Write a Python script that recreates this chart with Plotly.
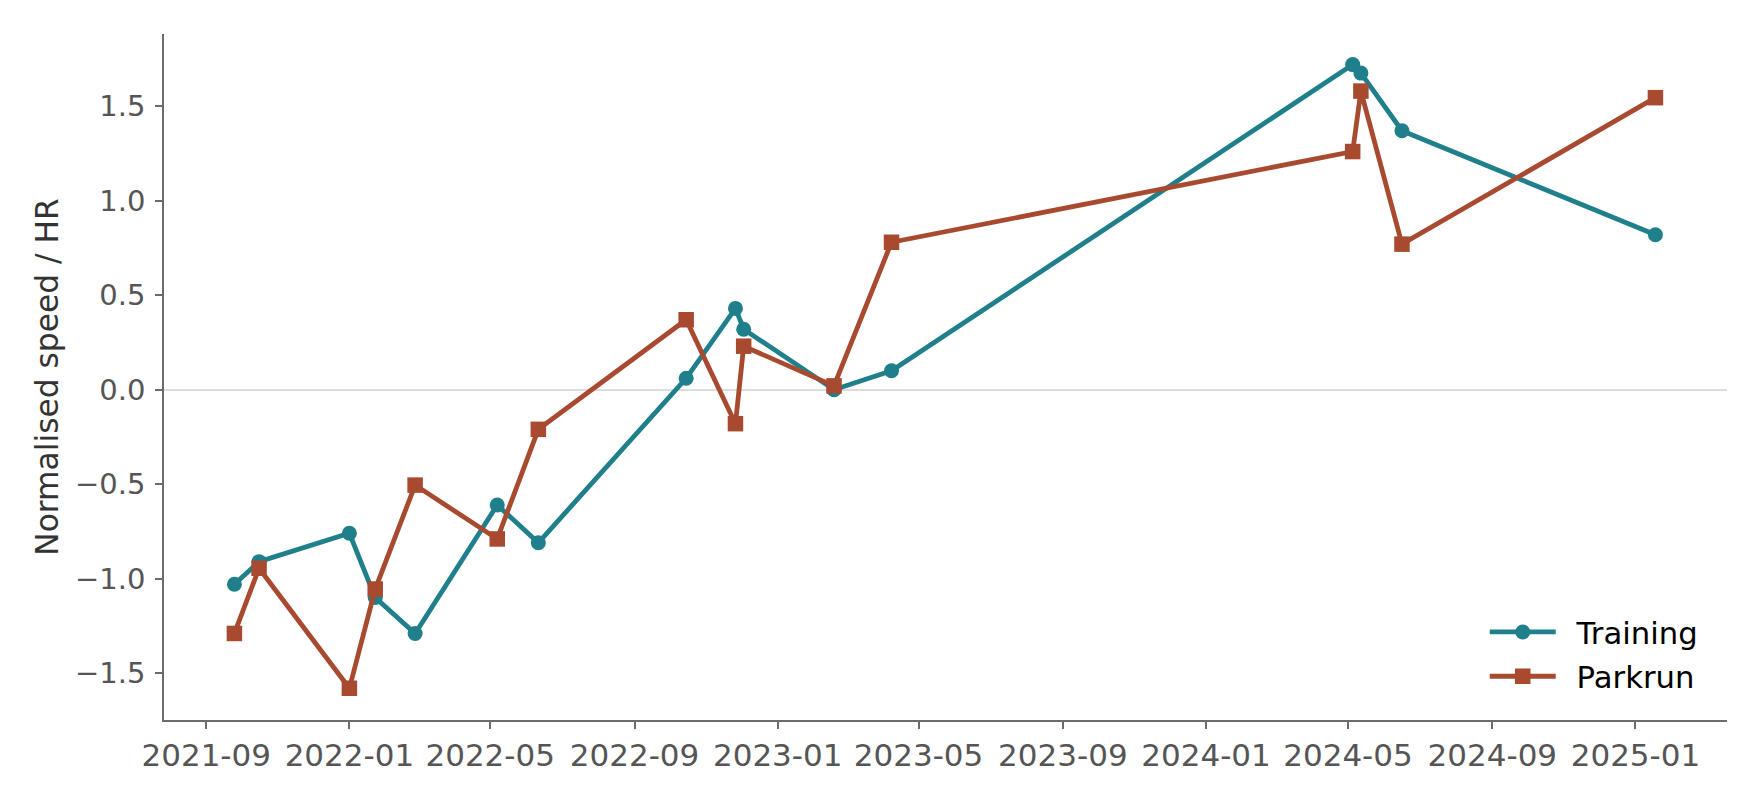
import plotly.graph_objects as go

# ---- data ----
dates = ["2021-09-25", "2021-10-16", "2022-01-01", "2022-01-23", "2022-02-26",
         "2022-05-07", "2022-06-11", "2022-10-15", "2022-11-26", "2022-12-03",
         "2023-02-18", "2023-04-08", "2024-05-05", "2024-05-12", "2024-06-16",
         "2025-01-18"]
training = [-1.03, -0.91, -0.76, -1.10, -1.29,
            -0.61, -0.81, 0.06, 0.43, 0.32,
            0.00, 0.10, 1.72, 1.675, 1.37,
            0.82]
parkrun = [-1.29, -0.945, -1.58, -1.055, -0.505,
           -0.79, -0.21, 0.37, -0.18, 0.23,
           0.02, 0.78, 1.26, 1.58, 0.77,
           1.545]
y_ticks = [-1.5, -1.0, -0.5, 0.0, 0.5, 1.0, 1.5]
series_names = ["Training", "Parkrun"]

TEAL = "#1f7f8b"
RUST = "#a84a2f"
FONT = "DejaVu Sans"
PAD = "\u00a0\u2009"  # small gap between legend symbol and label

fig = go.Figure()
fig.add_trace(go.Scatter(
    x=dates, y=training, name=PAD + series_names[0], mode="lines+markers",
    line=dict(color=TEAL, width=4.8),
    marker=dict(symbol="circle", size=15, color=TEAL),
    legend="legend", showlegend=True,
))
fig.add_trace(go.Scatter(
    x=dates, y=parkrun, name=PAD + series_names[1], mode="lines+markers",
    line=dict(color=RUST, width=4.8),
    marker=dict(symbol="square", size=15.5, color=RUST),
    legend="legend2", showlegend=True,
))

axis_common = dict(
    showline=True, linecolor="#6b6b6b", linewidth=1.6,
    ticks="outside", ticklen=7, tickwidth=1.6, tickcolor="#6b6b6b",
    showgrid=False,
)

# page body has an 8px margin: the figure is sized/positioned to compensate
fig.update_layout(
    width=1744, height=784,
    margin=dict(l=155.5, r=25.3, t=25.7, b=72.3),
    paper_bgcolor="white", plot_bgcolor="white",
    font=dict(family=FONT),
    showlegend=True,
    xaxis=dict(
        **axis_common,
        tickfont=dict(family=FONT, size=31, color="#555555"),
        type="date",
        range=["2021-07-27", "2025-03-20"],
        tick0="2021-09-01", dtick="M4", tickformat="%Y-%m",
        zeroline=False,
    ),
    yaxis=dict(
        **axis_common,
        tickfont=dict(family=FONT, size=29, color="#555555"),
        range=[-1.748, 1.882],
        tickvals=y_ticks, tickformat=".1f",
        ticklabelstandoff=4,
        zeroline=True, zerolinecolor="#dddddd", zerolinewidth=1.6,
        title=dict(text="Normalised speed / HR",
                   font=dict(family=FONT, size=31.3, color="#333333"),
                   standoff=7),
    ),
    legend=dict(x=0.845, y=0.1283, xanchor="left", yanchor="middle",
                bgcolor="rgba(0,0,0,0)", itemwidth=66,
                font=dict(family=FONT, size=30.7, color="#000000")),
    legend2=dict(x=0.845, y=0.0637, xanchor="left", yanchor="middle",
                 bgcolor="rgba(0,0,0,0)", itemwidth=66,
                 font=dict(family=FONT, size=30.7, color="#000000")),
)

fig.write_html("out.html")
